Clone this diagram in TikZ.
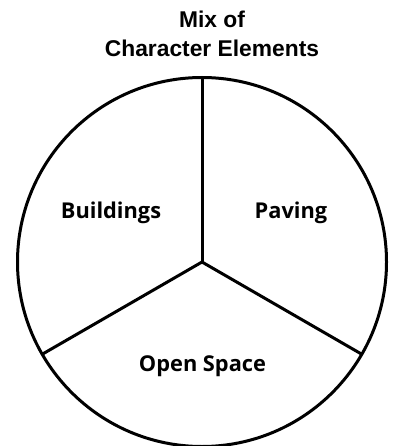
\documentclass[tikz,border=0pt]{standalone}
\usepackage{fontspec}
\usetikzlibrary{calc}
\setmainfont{Liberation Sans}
\newfontfamily\labelfont{Open Sans}
\begin{document}
\begin{tikzpicture}[x=1pt,y=-1pt,
  titletext/.style={font=\bfseries\fontsize{22.8}{27}\selectfont, inner sep=0pt, anchor=base},
  sector/.style={font=\labelfont\bfseries\fontsize{21.8}{26}\selectfont, inner sep=0pt, anchor=base},
  outline/.style={line width=3pt, draw=black}]
\useasboundingbox (0,0) rectangle (396,446);
\coordinate (c) at (202,262);
\draw[outline] (c) circle (184.5);
\coordinate (top) at ($(c)+(0,-184.5)$);
\coordinate (bl) at ($(c)+(-159.8,92.25)$);
\coordinate (br) at ($(c)+(159.8,92.25)$);
\draw[outline] (c) -- (top);
\draw[outline] (c) -- (bl);
\draw[outline] (c) -- (br);
\node[titletext] (t1) at (212,28) {Mix of};
\node[titletext] (t2) at (212,57) {Character Elements};
\node[sector] (b) at (111,218) {Buildings};
\node[sector] (p) at (291,218) {Paving};
\node[sector] (o) at (202.5,371) {Open Space};
\end{tikzpicture}
\end{document}
